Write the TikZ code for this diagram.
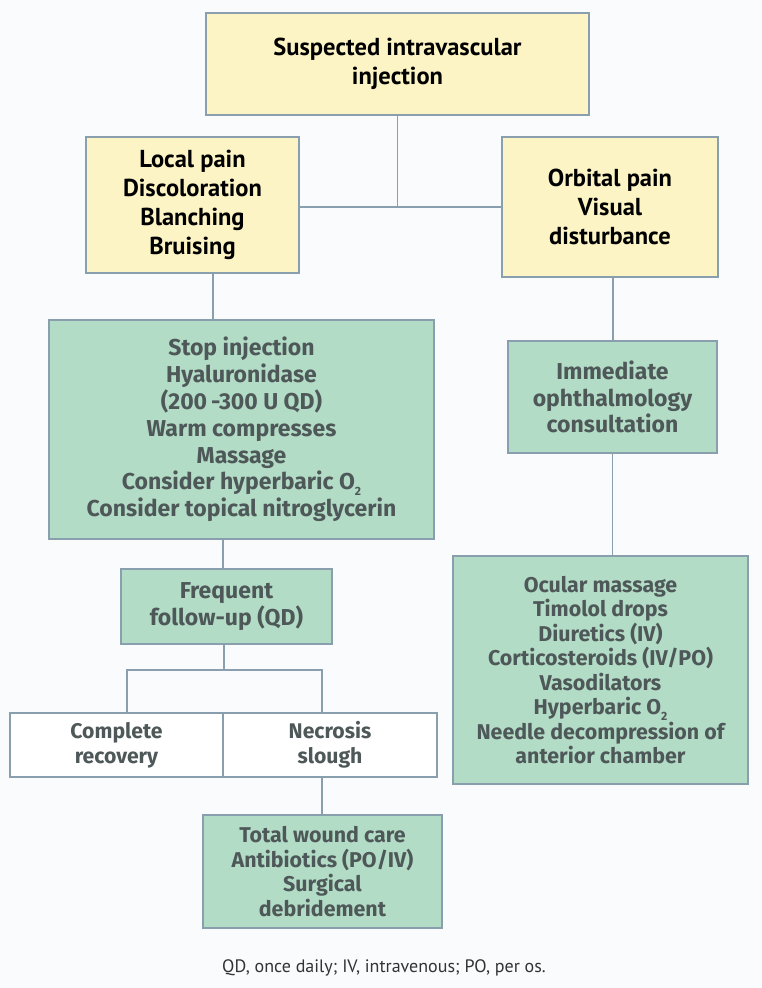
\documentclass[tikz,border=0pt]{standalone}
\usepackage{fontspec}
\setmainfont{PT Sans}
\newfontfamily\gfont{Fira Sans}
\definecolor{bgc}{HTML}{FAFBFC}
\definecolor{yel}{HTML}{FCF4C4}
\definecolor{grn}{HTML}{B3DCC6}
\definecolor{edge}{HTML}{8A9FAE}
\definecolor{gtext}{HTML}{4E5859}
\newcommand{\subtwo}{\raisebox{-0.5ex}{\fontsize{12}{12}\selectfont 2}}
\tikzset{
  box/.style={draw=edge, line width=1.8pt, inner sep=0pt, align=center},
  ybox/.style={box, fill=yel, text=black, font=\bfseries\fontsize{24.5}{29}\selectfont},
  gbox/.style={box, fill=grn, text=gtext, font=\gfont\bfseries\fontsize{23}{26.8}\selectfont},
  gsbox/.style={box, fill=grn, text=gtext, font=\gfont\bfseries\fontsize{21.4}{24.5}\selectfont},
  wbox/.style={box, fill=white, text=gtext, font=\gfont\bfseries\fontsize{21.2}{25}\selectfont},
  link/.style={draw=edge, line width=1.8pt},
}
\newcommand{\bx}[7]{% name, style, x1, y1, x2, y2, text
  \node[#2, minimum width={#5-#3}, minimum height={#6-#4}] (#1) at ({(#3+#5)/2},{(#4+#6)/2}) {#7};}
\begin{document}
\begin{tikzpicture}[x=1pt,y=-1pt]
\fill[bgc] (0,0) rectangle (762,988);
\useasboundingbox (0,0) rectangle (762,988);
\bx{top}{ybox}{206}{13}{589}{115}{Suspected intravascular\\injection}
\bx{lp}{ybox}{86}{137}{299}{273}{Local pain\\Discoloration\\Blanching\\Bruising}
\bx{op}{ybox}{502}{137}{718}{277}{Orbital pain\\Visual\\disturbance}
\bx{stop}{gbox}{49}{320}{434}{539}{Stop injection\\Hyaluronidase\\(200\,-300 U QD)\\Warm compresses\\Massage\\Consider hyperbaric O\subtwo\\Consider topical nitroglycerin}
\bx{freq}{gbox}{121}{569}{332}{644}{Frequent\\follow-up (QD)}
\bx{comp}{wbox}{10}{713}{223}{777}{Complete\\recovery}
\bx{necr}{wbox}{223}{713}{437}{777}{Necrosis\\slough}
\bx{tot}{gsbox}{203}{815}{442}{928}{Total wound care\\Antibiotics (PO/IV)\\Surgical\\debridement}
\bx{imm}{gbox}{508}{341}{717}{453}{Immediate\\ophthalmology\\consultation}
\bx{ocu}{gsbox}{453}{556}{748}{784}{Ocular massage\\Timolol drops\\Diuretics (IV)\\Corticosteroids (IV/PO)\\Vasodilators\\Hyperbaric O\subtwo\\Needle decompression of\\anterior chamber}
\node[text=black!80, font=\fontsize{18}{22}\selectfont] (foot) at (384,968) {QD, once daily; IV, intravenous; PO, per os.};
% connectors
\coordinate (j1) at (top.south |- 0,207);
\draw[link] (top.south) -- (j1);
\draw[link] (lp.east |- j1) -- (op.west |- j1);
\draw[link] (213,273) -- (213,320);
\coordinate (fa) at (223,539);
\draw[link] (fa) -- (fa |- freq.north);
\coordinate (fb) at (224,644);
\coordinate (fj) at (224,670);
\draw[link] (fb) -- (fj);
\draw[link] (127,713) |- (fj) -| (322,713);
\draw[link] (322,777) -- (322,815);
\draw[link] (613,277) -- (613,341);
\draw[link] (imm.south) -- (ocu.north -| imm.south);
\end{tikzpicture}
\end{document}
